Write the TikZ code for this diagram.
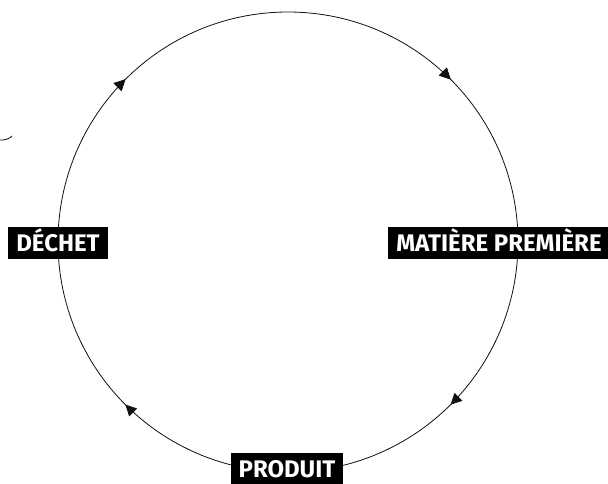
\documentclass[tikz,border=0pt]{standalone}
\usepackage{fontspec}
\setsansfont{Fira Sans}
\usetikzlibrary{arrows.meta,decorations.markings}
\definecolor{ink}{HTML}{111111}

\begin{document}
\begin{tikzpicture}[x=1pt,y=-1pt]
    \tikzset{
      tag/.style={fill=black,text=white,font=\sffamily\bfseries\fontsize{24}{24}\selectfont,inner xsep=8pt,inner ysep=7.5pt,text height=16.5pt,text depth=0pt},
      ring/.style={draw=ink,line width=0.8pt},
      midarrow/.style={postaction={decorate},decoration={markings,mark=at position #1 with {\arrow{Triangle[length=11pt,width=11pt]}}}}
    }
    \useasboundingbox (0,0) rectangle (608,483);
    % points on the cycle
    \coordinate (west) at (58,242);
    \coordinate (east) at (518,242);
    \coordinate (south) at (288,472);
    % cycle arcs, clockwise
    \draw[ring,midarrow=0.25,midarrow=0.75] (west) arc[start angle=180,end angle=360,radius=230];
    \draw[ring,midarrow=0.5] (east) arc[start angle=0,end angle=90,radius=230];
    \draw[ring,midarrow=0.5] (south) arc[start angle=90,end angle=180,radius=230];
    % stray arc at the left edge
    \draw[ring] (-2,140) .. controls (5,140.5) and (9,139) .. (12,136);
    % labels
    \node[tag] (dechet) at (58,243) {DÉCHET};
    \node[tag] (matiere) at (499,243) {MATIÈRE PREMIÈRE};
    \node[tag] (produit) at (287,469) {PRODUIT};
  \end{tikzpicture}
\end{document}
